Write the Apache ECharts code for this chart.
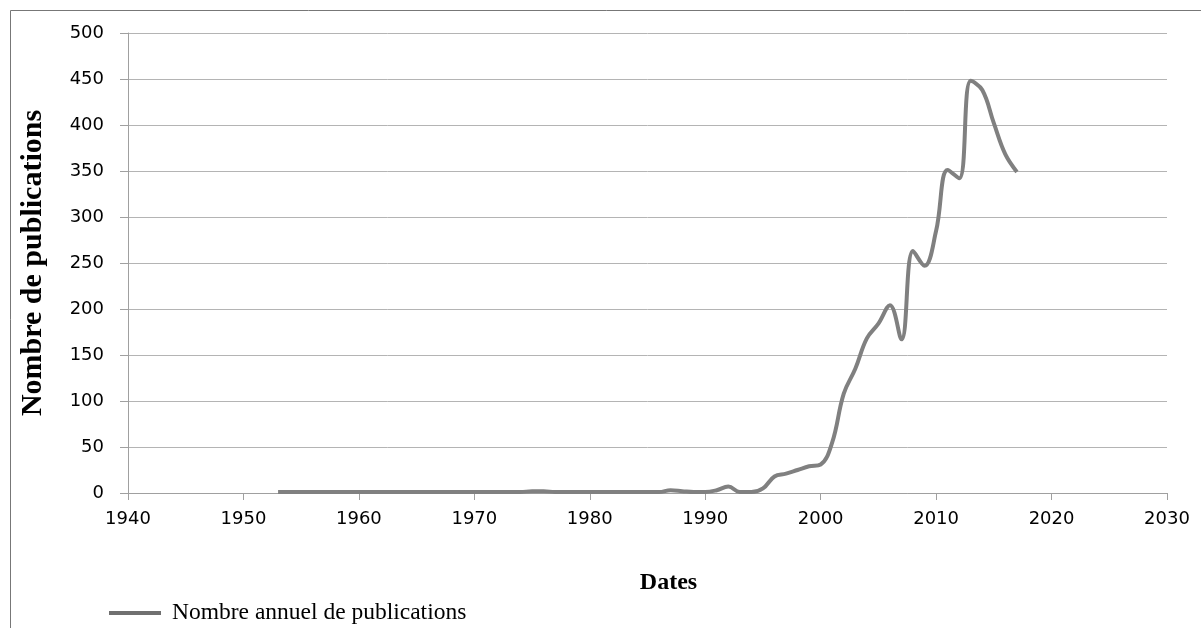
<!DOCTYPE html>
<html>
<head>
<meta charset="utf-8">
<script src="https://cdn.jsdelivr.net/npm/echarts@6/dist/echarts.min.js"></script>
<style>
html,body{margin:0;padding:0;background:#fff;}
#chart{width:1201px;height:628px;}
</style>
</head>
<body>
<div id="chart"></div>
<script>
const years = [1953,1954,1955,1956,1957,1958,1959,1960,1961,1962,1963,1964,1965,1966,1967,1968,1969,1970,1971,1972,1973,1974,1975,1976,1977,1978,1979,1980,1981,1982,1983,1984,1985,1986,1987,1988,1989,1990,1991,1992,1993,1994,1995,1996,1997,1998,1999,2000,2001,2002,2003,2004,2005,2006,2007,2008,2009,2010,2011,2012,2013,2014,2015,2016,2017];
const publications = [1,1,1,1,1,1,1,1,1,1,1,1,1,1,1,1,1,1,1,1,1,1,2,2,1,1,1,1,1,1,1,1,1,1,3,2,1,1,3,7,1,1,5,18,21,25,29,31,55,108,135,168,184,204,167,263,247,285,351,342,448,438,402,368,349];
const seriesName = 'Nombre annuel de publications';
const xTitle = 'Dates';
const yTitle = 'Nombre de publications';

const chart = echarts.init(document.getElementById('chart'));
chart.setOption({
  animation: false,
  backgroundColor: '#ffffff',
  grid: {left: 128, right: 34, top: 33, bottom: 135, containLabel: false},
  graphic: [{
    type: 'rect', left: 8, top: 8, silent: true,
    shape: {width: 1200, height: 640},
    style: {fill: 'none', stroke: '#777777', lineWidth: 1}
  }],
  legend: {
    left: 104, top: 596, icon: 'rect', itemWidth: 52, itemHeight: 4, itemGap: 10,
    textStyle: {fontFamily: 'Liberation Serif', fontSize: 23.5, color: '#000', padding: [0,0,0,6]},
    data: [seriesName]
  },
  xAxis: {
    type: 'value', min: 1940, max: 2030, interval: 10,
    name: xTitle, nameLocation: 'middle', nameGap: 78,
    nameTextStyle: {fontFamily: 'Liberation Serif', fontWeight: 'bold', fontSize: 24, color: '#000', padding: [0,0,0,42]},
    axisLine: {show: true, lineStyle: {color: '#a0a0a0', width: 1}},
    axisTick: {show: true, length: 7, lineStyle: {color: '#a0a0a0'}},
    axisLabel: {fontFamily: 'DejaVu Sans', fontSize: 18, color: '#000', margin: 17, formatter: v => String(v)},
    splitLine: {show: false}
  },
  yAxis: {
    type: 'value', min: 0, max: 500, interval: 50,
    name: yTitle, nameLocation: 'middle', nameGap: 80,
    nameTextStyle: {fontFamily: 'Liberation Serif', fontWeight: 'bold', fontSize: 30, color: '#000'},
    axisLine: {show: true, lineStyle: {color: '#a0a0a0', width: 1}},
    axisTick: {show: true, length: 8, lineStyle: {color: '#a0a0a0'}},
    axisLabel: {fontFamily: 'DejaVu Sans', fontSize: 18, color: '#000', margin: 24},
    splitLine: {show: true, lineStyle: {color: '#b4b4b4', width: 1}}
  },
  series: [{
    name: seriesName, type: 'line', smooth: 0.4, showSymbol: false, symbol: 'none',
    data: years.map((y, i) => [y, publications[i]]),
    lineStyle: {color: '#808080', width: 4},
    itemStyle: {color: '#707070'}
  }]
});
</script>
</body>
</html>
